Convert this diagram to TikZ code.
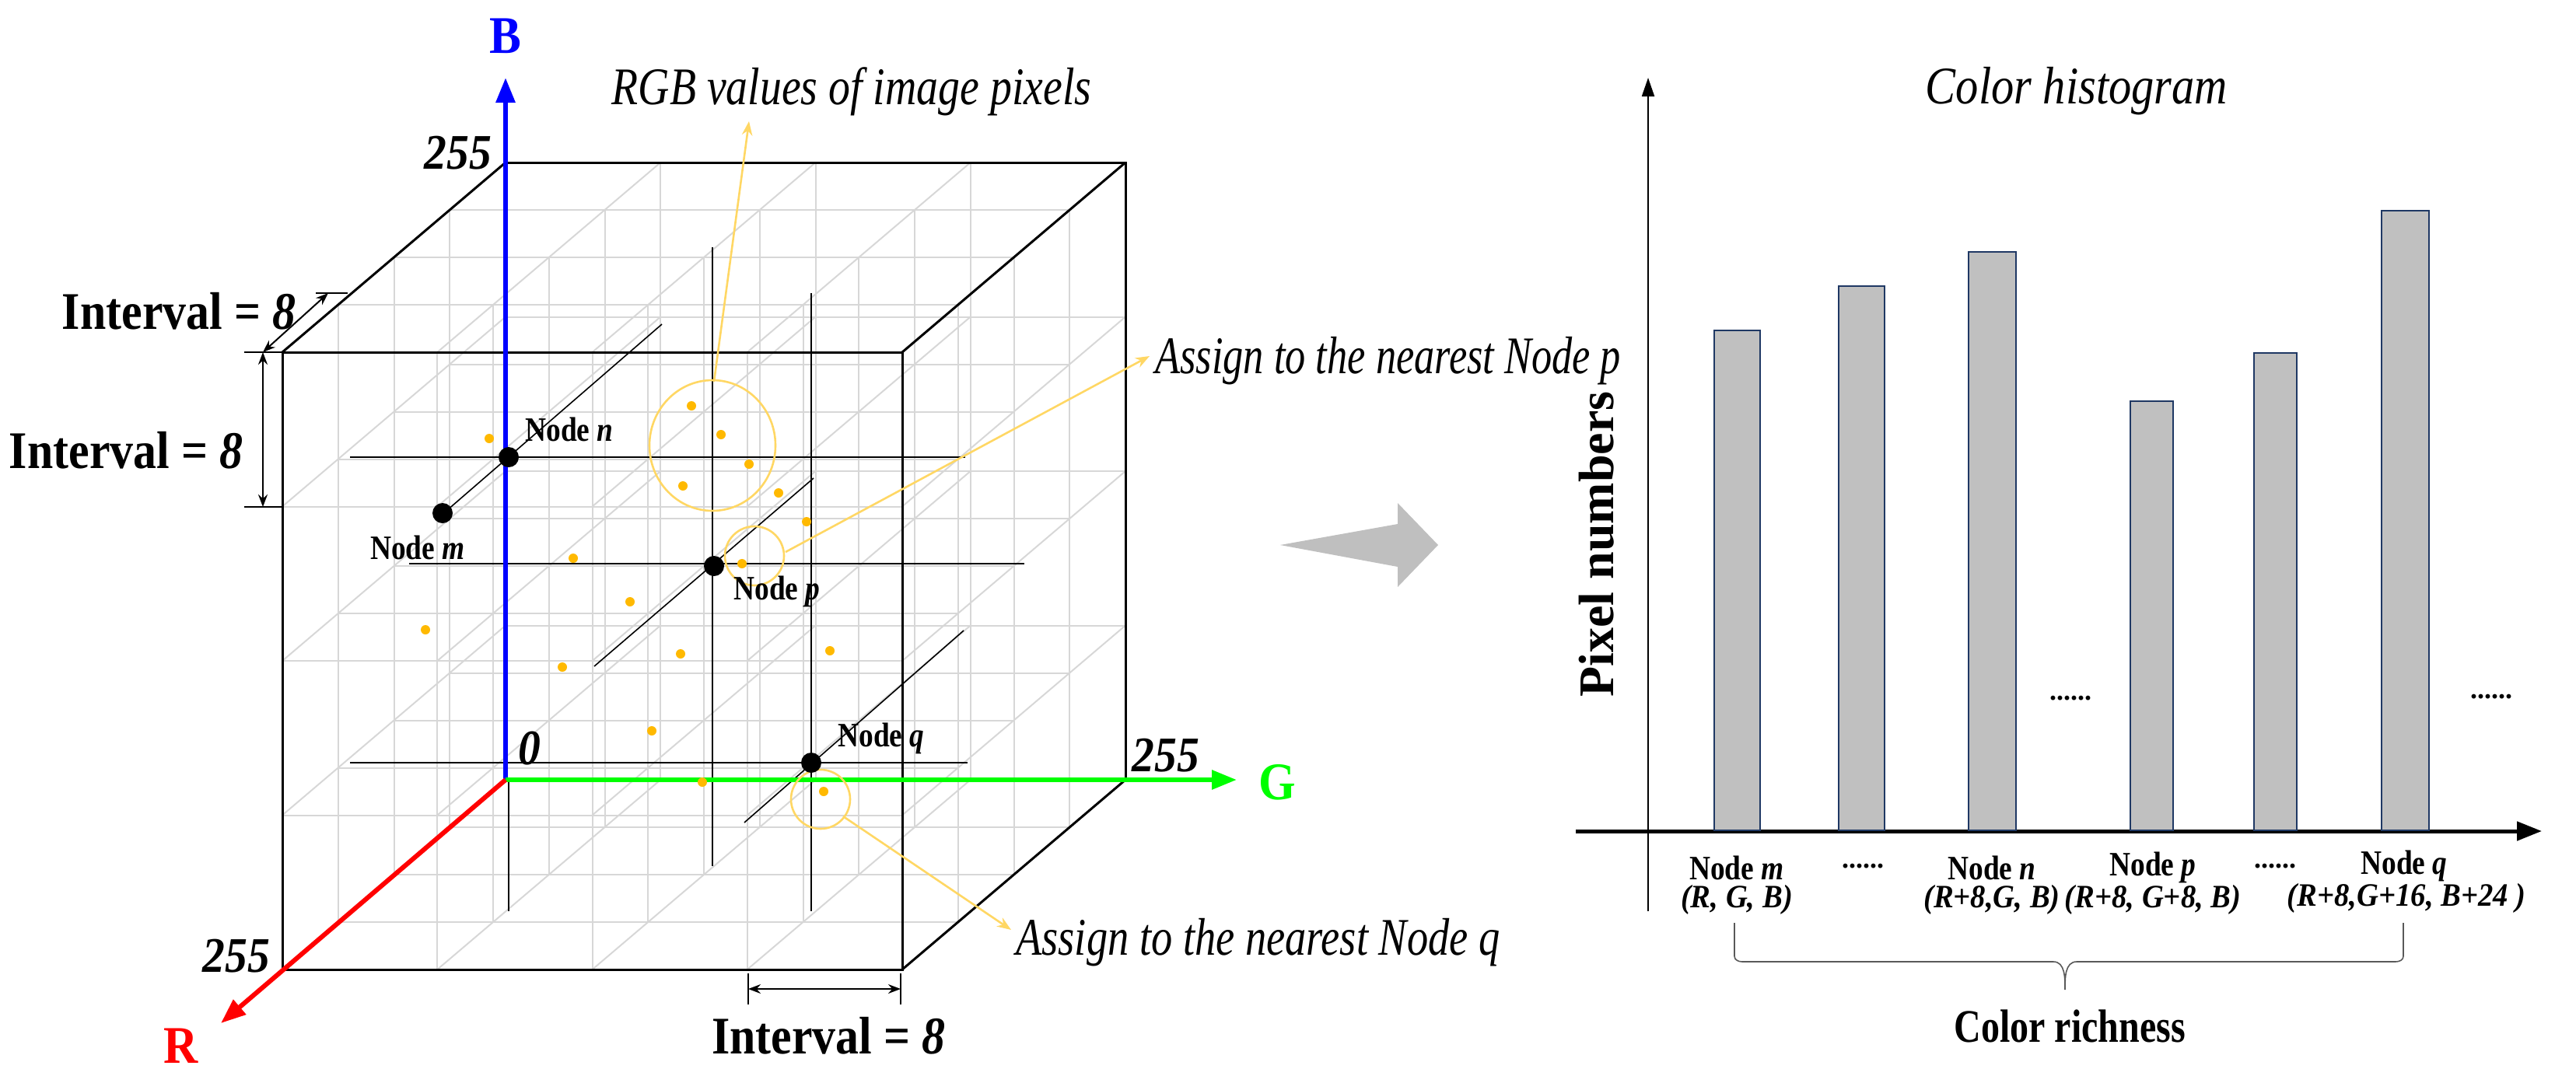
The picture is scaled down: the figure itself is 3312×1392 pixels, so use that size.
\documentclass[tikz,border=0pt]{standalone}
\usepackage{fontspec}
\setmainfont{Liberation Serif}
\usetikzlibrary{arrows.meta,decorations.pathreplacing}
\newcommand\fsz[1]{\fontsize{#1}{#1}\selectfont}
\newcommand\narrow[2]{\scalebox{#1}[1]{#2}}
\definecolor{dotor}{RGB}{255,185,0}
\definecolor{yel}{RGB}{255,215,100}
\definecolor{gridg}{RGB}{215,215,215}
\definecolor{barfill}{RGB}{192,192,192}
\definecolor{barline}{RGB}{31,56,100}
\begin{document}
\begin{tikzpicture}[x=0.5pt,y=-0.5pt,
  lbl/.style={font=\fsz{30}\bfseries,inner sep=0pt},
  nodelbl/.style={font=\fsz{22}\bfseries,inner sep=0pt},
  itl/.style={font=\fsz{34}\itshape,inner sep=0pt},
  pdot/.style={circle,fill=dotor,inner sep=0pt,minimum size=6pt},
  bdot/.style={circle,fill=black,inner sep=0pt,minimum size=13pt},
  yarrow/.style={draw=yel,line width=1.3pt,-{Stealth[length=9pt]}},
  dim/.style={line width=1pt,{Stealth[length=8pt]}-{Stealth[length=8pt]}},
  bar/.style={draw=barline,fill=barfill,line width=1.3pt},
  cube/.style={line width=1.5pt}]
\useasboundingbox (0,0) rectangle (3312,1392);
% lattice
\begin{scope}[x={(99.625pt,0pt)},y={(0pt,99.25pt)},z={(-35.875pt,-30.5pt)},shift={(325pt,-501.5pt)}]
  \foreach \i in {0,...,4}{\foreach \j in {0,...,4}{
    \draw[gridg,line width=1pt] (0,\j,\i) -- (4,\j,\i);
    \draw[gridg,line width=1pt] (\j,0,\i) -- (\j,4,\i);
    \draw[gridg,line width=1pt] (\i,\j,0) -- (\i,\j,4);}}
  \draw[cube] (0,0,4) rectangle (4,4,4);
  \draw[cube] (0,4,0) -- (4,4,0) -- (4,0,0);
  \draw[cube] (0,4,4) -- (0,4,0) (4,4,4) -- (4,4,0) (4,0,4) -- (4,0,0);
\end{scope}
% black lines
\draw[line width=0.8pt] (450,588) -- (1241,588);
\draw[line width=0.8pt] (574,657) -- (851,417);
\draw[line width=0.8pt] (526,725) -- (1317,725);
\draw[line width=0.8pt] (764,857) -- (1046,615);
\draw[line width=0.8pt] (916,318) -- (916,1114);
\draw[line width=0.8pt] (1043,377) -- (1043,1172);
\draw[line width=0.8pt] (450,981) -- (1244,981);
\draw[line width=0.8pt] (957,1058) -- (1239,811);
\draw[line width=0.8pt] (654,1003) -- (654,1172);
% axes
\coordinate (O) at (650,1003);
\coordinate (Btip) at (650,100);
\coordinate (Gtip) at (1590,1003);
\coordinate (Rtip) at (284,1316);
\draw[blue,line width=3pt,-{Triangle[length=16pt,width=12pt]}] (O) -- (Btip);
\draw[green,line width=3pt,-{Triangle[length=16pt,width=12pt]}] (O) -- (Gtip);
\draw[red,line width=3pt,-{Triangle[length=16pt,width=12pt]}] (O) -- (Rtip);
\node[lbl,blue,font=\fsz{34}\bfseries] (Bl) at (650,46) {\narrow{0.9}{B}};
\node[lbl,green,font=\fsz{34}\bfseries] (Gl) at (1642,1006) {\narrow{0.9}{G}};
\node[lbl,red,font=\fsz{34}\bfseries] (Rl) at (233,1345) {\narrow{0.9}{R}};
\node[lbl,font=\fsz{32}\bfseries\itshape] (b255) at (589,197) {\narrow{0.9}{255}};
\node[lbl,font=\fsz{32}\bfseries\itshape] (g255) at (1499,972) {\narrow{0.9}{255}};
\node[lbl,font=\fsz{32}\bfseries\itshape] (r255) at (304,1230) {\narrow{0.9}{255}};
\node[lbl,font=\fsz{32}\bfseries\itshape] (zero) at (681,963) {\narrow{0.9}{0}};
% dots
\foreach \x/\y [count=\k] in {629/564,889/522,927/559,963/597,878/625,1001/634,1037/671,954/725,737/718,810/774,547/810,875/841,723/858,1067/837,838/940,903/1006,1059/1018}
  \node[pdot] (d\k) at (\x,\y) {};
% yellow circles and arrows
\draw[yel,line width=1.3pt] (916,573) ellipse (81 and 84);
\draw[yel,line width=1.3pt] (970,715) circle (19pt);
\draw[yel,line width=1.3pt] (1055,1028) circle (19pt);
\coordinate (c1) at (918,491); \coordinate (c2) at (1010,710); \coordinate (c3) at (1084,1050);
\node[itl] (rgbt) at (1095,118) {\narrow{0.82}{RGB values of image pixels}};
\node[itl,anchor=west] (asp) at (1485,464) {\narrow{0.77}{Assign to the nearest Node p}};
\node[itl,anchor=west] (asq) at (1306,1212) {\narrow{0.8}{Assign to the nearest Node q}};
\draw[yarrow] (c1) -- (963,156);
\draw[yarrow] (c2) -- (1478,458);
\draw[yarrow] (c3) -- (1300,1196);
% nodes
\node[bdot] (nn) at (654,588) {};
\node[bdot] (nm) at (569,660) {};
\node[bdot] (np) at (918,728) {};
\node[bdot] (nq) at (1043,981) {};
\node[nodelbl] (ln) at (732,552) {\narrow{0.85}{Node \textit{n}}};
\node[nodelbl] (lm) at (537,704) {\narrow{0.85}{Node \textit{m}}};
\node[nodelbl] (lp) at (999,761) {\narrow{0.85}{Node \textit{p}}};
\node[nodelbl] (lq) at (1133,950) {\narrow{0.85}{Node \textit{q}}};
% dimensions
\node[lbl,font=\fsz{34}\bfseries] (i1) at (230,400) {\narrow{0.88}{Interval = \textit{8}}};
\node[lbl,font=\fsz{34}\bfseries] (i2) at (162,579) {\narrow{0.88}{Interval = \textit{8}}};
\node[lbl,font=\fsz{34}\bfseries] (i3) at (1065,1332) {\narrow{0.88}{Interval = \textit{8}}};
\draw[line width=1pt] (314,453) -- (363,453) (314,652) -- (363,652);
\draw[dim] (338,453) -- (338,652);
\draw[line width=1pt] (406,377) -- (447,377);
\draw[dim] (338,453) -- (422,377);
\draw[line width=1pt] (962,1252) -- (962,1292) (1158,1252) -- (1158,1292);
\draw[dim] (962,1272) -- (1158,1272);
% big arrow
\fill[gray!50] (1646,701) -- (1797,674) -- (1797,647) -- (1849,701) -- (1797,755) -- (1797,729) -- cycle;
% histogram
\coordinate (yb) at (2119,1172); \coordinate (yt) at (2119,100);
\coordinate (xl) at (2026,1069); \coordinate (xr) at (3268,1069);
\draw[line width=1pt,-{Triangle[length=12pt,width=8pt]}] (yb) -- (yt);
\draw[line width=2.5pt,-{Triangle[length=16pt,width=12pt]}] (xl) -- (xr);
\foreach \l/\r/\t [count=\k] in {2204/2263/425,2364/2423/368,2531/2592/324,2739/2794/516,2898/2953/454,3062/3123/271}
  \draw[bar] (\l,1068) rectangle (\r,\t);
\node[itl] (cht) at (2670,117) {\narrow{0.86}{Color histogram}};
\node[lbl,rotate=90,font=\fsz{32}\bfseries] (pn) at (2053,700) {Pixel numbers};
\node[nodelbl,font=\fsz{18}\bfseries] (e1) at (2662,898) {......};
\node[nodelbl,font=\fsz{18}\bfseries] (e2) at (3203,896) {......};
\node[nodelbl] (hm) at (2233,1116) {\narrow{0.85}{Node \textit{m}}};
\node[nodelbl,font=\fsz{18}\bfseries] (e3) at (2395,1114) {......};
\node[nodelbl] (hn) at (2561,1116) {\narrow{0.85}{Node \textit{n}}};
\node[nodelbl] (hp) at (2768,1116) {\narrow{0.85}{Node \textit{p}}};
\node[nodelbl,font=\fsz{18}\bfseries] (e4) at (2925,1114) {......};
\node[nodelbl] (hq) at (3091,1114) {\narrow{0.85}{Node \textit{q}}};
\node[nodelbl,font=\fsz{21}\bfseries\itshape] (cm) at (2233,1157) {\narrow{0.92}{(R, G, B)}};
\node[nodelbl,font=\fsz{21}\bfseries\itshape] (cn) at (2561,1157) {\narrow{0.92}{(R+8,G, B)}};
\node[nodelbl,font=\fsz{21}\bfseries\itshape] (cp) at (2768,1157) {\narrow{0.92}{(R+8, G+8, B)}};
\node[nodelbl,font=\fsz{21}\bfseries\itshape] (cq) at (3094,1155) {\narrow{0.92}{(R+8,G+16, B+24 )}};
\draw[line width=0.8pt,gray!70!black] (2230,1187) -- (2230,1230) to[out=-90,in=180] (2240,1237) -- (2640,1237) to[out=0,in=90] (2655,1273)
  to[out=90,in=180] (2670,1237) -- (3080,1237) to[out=0,in=-90] (3090,1230) -- (3090,1187);
\node[lbl,font=\fsz{30}\bfseries] (cr) at (2661,1320) {\narrow{0.8}{Color richness}};
\end{tikzpicture}
\end{document}
